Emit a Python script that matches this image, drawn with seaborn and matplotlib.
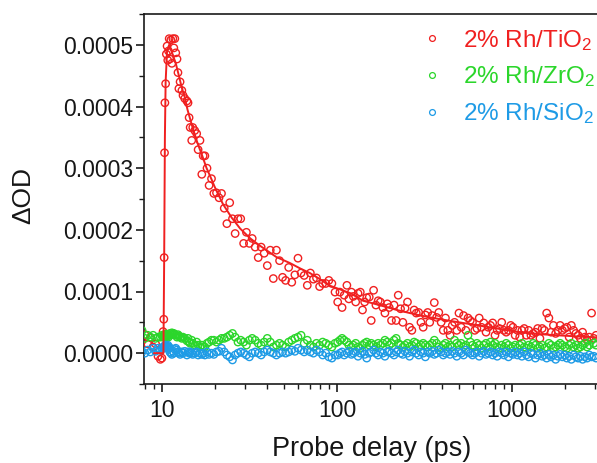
import numpy as np
import pandas as pd
import matplotlib
matplotlib.use("Agg")
import matplotlib.pyplot as plt
from matplotlib.ticker import FixedLocator, FuncFormatter, LogLocator, NullFormatter, MultipleLocator
import seaborn as sns

# ---------------- data (ΔOD in units of 1e-4) ----------------
delay_ps = [
    7.7, 8.0, 8.3, 8.6, 8.9, 9.2, 9.5, 9.8, 10.0, 10.15,
    10.25, 10.3, 10.35, 10.4, 10.5, 10.6, 10.7, 10.8, 10.9, 11.0,
    11.1, 11.25, 11.4, 11.55, 11.7, 11.85, 12.0, 12.2, 12.35, 12.5,
    12.7, 13.0, 13.2, 13.5, 13.9, 14.1, 14.3, 14.5, 14.8, 15.0,
    15.4, 15.8, 16.1, 16.5, 16.9, 17.2, 17.6, 18.1, 18.6, 19.2,
    19.8, 20.5, 21.2, 21.9, 22.7, 23.5, 24.4, 25.3, 26.2, 27.2,
    28.2, 29.3, 30.4, 31.6, 32.8, 34.1, 35.5, 36.9, 38.4, 40.0,
    41.6, 43.3, 45.1, 47.0, 48.9, 50.9, 53.0, 55.2, 57.5, 59.9,
    62.4, 65.0, 67.7, 70.5, 73.4, 76.4, 79.6, 82.9, 86.3, 89.9,
    93.6, 97.5,
    101, 104, 107, 110, 114, 117, 121, 124, 128, 132,
    136, 140, 144, 148, 153, 157, 162, 167, 172, 177,
    183, 188, 194, 199, 205, 212, 218, 224, 231, 238,
    245, 253, 260, 268, 276, 284, 293, 302, 311, 320,
    330, 339, 350, 360, 371, 382, 394, 405, 417, 430,
    443, 456, 470, 484, 498, 513, 529, 545, 561, 578,
    595, 613, 631, 650, 670, 690, 711, 732, 754, 776,
    800, 824, 848, 874, 900, 927, 955, 984, 1013, 1043,
    1075, 1107, 1140, 1175, 1210, 1246, 1284, 1322, 1362, 1403,
    1445, 1488, 1533, 1579, 1626, 1675, 1725, 1777, 1830, 1885,
    1942, 2000, 2060, 2122, 2185, 2251, 2319, 2388, 2460, 2533,
    2609, 2688, 2768, 2851, 2937, 3025,
]

tio2 = [
    0.2, 0.3, 0.15, 0.25, 0.1, 0.15, -0.05, -0.1, -0.08, 0.35,
    0.55, 1.55, 3.25, 4.06, 4.37, 4.85, 4.98, 4.75, 4.9, 5.1,
    4.77, 5.08, 4.7, 5.1, 4.95, 5.1, 4.87, 4.77, 4.55, 4.29,
    4.4, 4.26, 4.18, 4.13, 4.09, 4.06, 3.82, 3.66, 3.45, 3.66,
    3.61, 3.56, 3.3, 3.45, 2.9, 3.2, 3.2, 3.0, 2.72, 2.83,
    2.59, 2.6, 2.52, 2.59, 2.35, 2.1, 2.44, 2.18, 1.94, 2.18,
    2.18, 1.78, 1.96, 1.78, 1.86, 1.72, 1.55, 1.72, 1.62, 1.42,
    1.67, 1.21, 1.67, 1.5, 1.23, 1.18, 1.39, 1.15, 1.27, 1.54,
    1.3, 1.26, 1.1, 1.3, 1.2, 1.22, 1.08, 1.13, 1.13, 1.18,
    1.13, 0.99,
    0.83, 0.99, 0.74, 0.94, 1.10, 0.88, 0.99, 0.92, 0.83, 0.97,
    0.99, 0.70, 0.83, 0.9, 0.91, 0.53, 1.02, 0.78, 0.85, 0.83,
    0.74, 0.65, 0.8, 0.74, 0.53, 0.78, 0.53, 0.94, 0.72, 0.50,
    0.73, 0.83, 0.42, 0.37, 0.70, 0.65, 0.66, 0.50, 0.42, 0.62,
    0.66, 0.50, 0.61, 0.82, 0.58, 0.66, 0.50, 0.37, 0.57, 0.37,
    0.29, 0.45, 0.50, 0.37, 0.65, 0.42, 0.61, 0.37, 0.57, 0.53,
    0.50, 0.37, 0.40, 0.57, 0.42, 0.49, 0.34, 0.42, 0.45, 0.49,
    0.29, 0.37, 0.40, 0.50, 0.37, 0.34, 0.37, 0.45, 0.42, 0.29,
    0.37, 0.26, 0.37, 0.40, 0.29, 0.37, 0.29, 0.32, 0.34, 0.40,
    0.24, 0.40, 0.37, 0.65, 0.57, 0.34, 0.45, 0.32, 0.37, 0.45,
    0.37, 0.40, 0.42, 0.26, 0.45, 0.37, 0.32, 0.29, 0.24, 0.34,
    0.26, 0.21, 0.26, 0.65, 0.24, 0.29,
]

zro2 = [
    0.37, 0.24, 0.29, 0.26, 0.29, 0.24, 0.26, 0.26, 0.29, 0.26,
    0.28, 0.3, 0.26, 0.29, 0.31, 0.27, 0.3, 0.28, 0.26, 0.29,
    0.32, 0.3, 0.33, 0.31, 0.32, 0.3, 0.29, 0.26, 0.3, 0.28,
    0.26, 0.24, 0.26, 0.24, 0.2, 0.24, 0.18, 0.16, 0.21, 0.16,
    0.13, 0.18, 0.13, 0.10, 0.13, 0.10, 0.10, 0.16, 0.18, 0.21,
    0.21, 0.18, 0.21, 0.24, 0.24, 0.26, 0.29, 0.32, 0.26, 0.18,
    0.21, 0.18, 0.13, 0.21, 0.24, 0.21, 0.16, 0.13, 0.18, 0.24,
    0.18, 0.10, 0.13, 0.16, 0.13, 0.10, 0.18, 0.21, 0.24, 0.26,
    0.29, 0.16, 0.21, 0.13, 0.10, 0.16, 0.13, 0.18, 0.16, 0.13,
    0.10, 0.16,
    0.18, 0.21, 0.24, 0.21, 0.18, 0.13, 0.10, 0.13, 0.16, 0.10,
    0.08, 0.13, 0.16, 0.18, 0.13, 0.16, 0.13, 0.10, 0.16, 0.13,
    0.16, 0.21, 0.18, 0.13, 0.16, 0.21, 0.24, 0.16, 0.13, 0.10,
    0.13, 0.16, 0.10, 0.13, 0.18, 0.16, 0.10, 0.13, 0.16, 0.13,
    0.10, 0.13, 0.16, 0.21, 0.16, 0.10, 0.08, 0.13, 0.16, 0.10,
    0.13, 0.10, 0.21, 0.16, 0.13, 0.16, 0.10, 0.13, 0.29, 0.18,
    0.13, 0.10, 0.16, 0.13, 0.08, 0.13, 0.16, 0.10, 0.18, 0.13,
    0.16, 0.10, 0.08, 0.13, 0.10, 0.16, 0.13, 0.08, 0.10, 0.13,
    0.08, 0.13, 0.16, 0.10, 0.08, 0.13, 0.10, 0.16, 0.13, 0.08,
    0.10, 0.13, 0.08, 0.10, 0.16, 0.13, 0.08, 0.10, 0.13, 0.16,
    0.13, 0.10, 0.08, 0.13, 0.16, 0.10, 0.13, 0.08, 0.10, 0.13,
    0.16, 0.10, 0.13, 0.21, 0.16, 0.13,
]

sio2 = [
    0.02, 0.0, 0.05, 0.02, 0.08, 0.03, 0.08, 0.05, 0.08, 0.10,
    0.1, 0.08, 0.12, 0.1, 0.13, 0.09, 0.11, 0.13, 0.08, 0.10,
    0.02, 0.0, -0.02, 0.03, 0.0, 0.06, 0.08, 0.05, 0.02, 0.0,
    -0.02, 0.02, 0.0, 0.03, -0.03, 0.02, 0.0, 0.02, 0.0, -0.02,
    0.0, 0.02, -0.03, 0.0, -0.02, 0.0, -0.03, 0.02, -0.02, 0.0,
    -0.02, 0.02, 0.03, 0.08, 0.02, -0.03, -0.06, -0.11, -0.03, 0.0,
    0.02, 0.0, -0.03, -0.06, 0.0, 0.02, 0.0, -0.03, 0.02, 0.05,
    0.02, 0.0, -0.03, 0.0, 0.02, 0.0, 0.02, 0.05, 0.03, 0.08,
    0.05, 0.02, 0.05, 0.02, 0.0, 0.05, 0.02, -0.03, 0.0, -0.06,
    -0.08, -0.03,
    -0.03, 0.0, 0.02, -0.03, 0.0, 0.03, -0.02, 0.0, 0.02, -0.05,
    0.0, 0.03, -0.02, -0.08, 0.0, 0.02, 0.05, 0.0, -0.03, 0.02,
    0.0, -0.05, 0.02, 0.03, 0.0, -0.03, 0.02, 0.05, 0.0, -0.02,
    0.03, 0.0, -0.05, 0.02, 0.05, 0.0, -0.03, 0.02, 0.0, -0.06,
    0.02, 0.0, 0.03, -0.02, 0.0, 0.05, 0.02, -0.03, 0.0, 0.02,
    -0.02, 0.03, 0.0, -0.05, 0.02, 0.0, -0.03, 0.05, 0.02, 0.0,
    -0.03, 0.0, 0.02, -0.05, 0.0, 0.03, -0.02, 0.0, 0.02, -0.03,
    0.0, -0.05, 0.02, 0.0, -0.03, 0.02, -0.06, 0.0, -0.02, 0.02,
    -0.03, 0.0, -0.05, 0.02, -0.03, -0.06, 0.0, -0.02, -0.08, -0.03,
    0.0, -0.05, -0.03, -0.08, -0.02, -0.06, -0.03, -0.1, -0.05, -0.02,
    -0.06, -0.03, -0.08, -0.05, -0.1, -0.03, -0.06, -0.08, -0.05, -0.1,
    -0.06, -0.08, -0.03, -0.06, -0.05, -0.08,
]

# fitted curve for 2% Rh/TiO2
fit_t = [9.0, 10.2, 10.3, 10.4, 10.5, 10.7, 11.0, 11.5, 12.0, 12.5,
         13.0, 13.5, 14.0, 15.0, 16.0, 17.0, 18.0, 19.0, 20.0, 22.3,
         25.0, 28.0, 32.0, 36.0, 40.0, 45.0, 54.0, 62.0, 70.0, 80.0,
         90.0, 120, 141, 180, 220, 280, 340, 430, 525, 650,
         820, 1000, 1270, 1600, 1950, 2400, 2900, 3100]
fit_y = [0.0, 0.0, 1.5, 3.5, 4.4, 4.9, 5.0, 4.85, 4.7, 4.5,
         4.3, 4.15, 3.95, 3.65, 3.4, 3.2, 3.0, 2.85, 2.7, 2.42,
         2.2, 2.02, 1.86, 1.75, 1.66, 1.56, 1.46, 1.37, 1.3, 1.2,
         1.1, 0.97, 0.85, 0.77, 0.70, 0.63, 0.58, 0.53, 0.49, 0.45,
         0.40, 0.36, 0.32, 0.30, 0.285, 0.27, 0.26, 0.255]

series_names = ["2% Rh/TiO$_2$", "2% Rh/ZrO$_2$", "2% Rh/SiO$_2$"]
series_vals = [tio2, zro2, sio2]
series_colors = ["#f02020", "#2bd62b", "#1e9be6"]

yticks = [0.0, 0.0001, 0.0002, 0.0003, 0.0004, 0.0005]
xticks = [10, 100, 1000]

# ---------------- figure ----------------
sns.set_theme(style="ticks")
plt.rcParams["font.family"] = ["Liberation Sans", "DejaVu Sans"]
plt.rcParams["mathtext.fontset"] = "custom"
plt.rcParams["mathtext.rm"] = "Liberation Sans"
plt.rcParams["mathtext.it"] = "Liberation Sans"
plt.rcParams["mathtext.default"] = "regular"

W, H = 597, 463
fig = plt.figure(figsize=(W / 100, H / 100), dpi=100)
fig.patch.set_facecolor("white")
ax = fig.add_axes([144 / W, (H - 384) / H, 456 / W, 370 / H])

frames = []
for name, vals in zip(series_names, series_vals):
    frames.append(pd.DataFrame({"delay": delay_ps,
                                "dOD": np.asarray(vals) * 1e-4,
                                "sample": name}))

for df, color, name in zip(frames, series_colors, series_names):
    sns.scatterplot(data=df, x="delay", y="dOD", ax=ax, s=28, marker="o",
                    facecolor="none", edgecolor=color, linewidth=1.0,
                    zorder=3, legend=False)

fit_df = pd.DataFrame({"delay": fit_t, "dOD": np.asarray(fit_y) * 1e-4})
sns.lineplot(data=fit_df, x="delay", y="dOD", ax=ax, color=series_colors[0],
             linewidth=1.4, estimator=None, zorder=4)

ax.set_xscale("log")
ax.set_xlim(7.9, 3185)
ax.set_ylim(-0.00005, 0.00055)

ax.xaxis.set_major_locator(FixedLocator(xticks))
ax.xaxis.set_major_formatter(FuncFormatter(lambda v, p: f"{v:.0f}"))
ax.xaxis.set_minor_locator(LogLocator(base=10, subs=np.arange(2, 10)))
ax.xaxis.set_minor_formatter(NullFormatter())
ax.yaxis.set_major_locator(FixedLocator(yticks))
ax.yaxis.set_major_formatter(FuncFormatter(lambda v, p: f"{v:.4f}"))
ax.yaxis.set_minor_locator(MultipleLocator(0.00005))

for s in ["left", "bottom", "top"]:
    ax.spines[s].set_linewidth(1.2)
    ax.spines[s].set_color("#1a1a1a")
ax.spines["right"].set_visible(False)

ax.tick_params(axis="both", which="major", direction="out", length=6,
               width=1.2, color="#1a1a1a", labelsize=16.5, labelcolor="#161616")
ax.tick_params(axis="both", which="minor", direction="out", length=3.5,
               width=1.0, color="#1a1a1a")
ax.tick_params(axis="y", which="major", pad=2)
ax.tick_params(axis="x", which="major", pad=5)
ax.tick_params(top=False, right=False, which="both")

ax.set_xlabel("Probe delay (ps)", fontsize=19.5, color="#161616")
ax.set_ylabel("ΔOD", fontsize=19, color="#161616")
ax.xaxis.set_label_coords(0.5, -0.14)
ax.yaxis.set_label_coords(-0.238, 0.51)

handles = [plt.Line2D([], [], linestyle="none", marker="o", markersize=4.2,
                      markerfacecolor="none", markeredgecolor=c,
                      markeredgewidth=0.9) for c in series_colors]
leg = ax.legend(handles, series_names, loc="upper left",
                bbox_to_anchor=(425 / W, 1 - 28 / H),
                bbox_transform=fig.transFigure, frameon=False,
                fontsize=17.5, handlelength=0.6, handletextpad=0.95,
                borderpad=0, borderaxespad=0, labelspacing=0.48)
for t, c in zip(leg.get_texts(), series_colors):
    t.set_color(c)

fig.savefig("out.png", dpi=100, facecolor="white")
